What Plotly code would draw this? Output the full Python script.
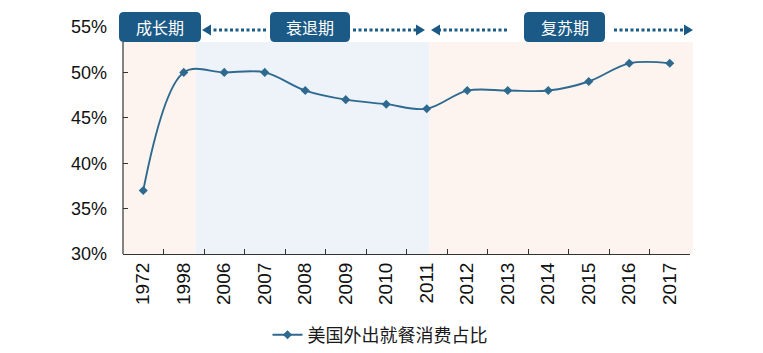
import plotly.graph_objects as go

years = ["1972", "1998", "2006", "2007", "2008", "2009", "2010", "2011",
         "2012", "2013", "2014", "2015", "2016", "2017"]
share = [37, 50, 50, 50, 48, 47, 46.5, 46, 48, 48, 48, 49, 51, 51]
series_name = "美国外出就餐消费占比"
phases = ["成长期", "衰退期", "复苏期"]
y_ticks = [30, 35, 40, 45, 50, 55]
y_labels = ["30%", "35%", "40%", "45%", "50%", "55%"]

W, H = 763, 353
L, R, T, B = 123, 690, 27, 254


def px(x):
    return (x - L) / (R - L)


def py(y):
    return (B - y) / (B - T)


BOX = "#1b5a86"
LINE = "#2e6a90"

fig = go.Figure()
fig.add_trace(go.Scatter(
    x=years, y=share, name=series_name, mode="lines+markers",
    line=dict(color=LINE, width=1.9, shape="spline", smoothing=1),
    marker=dict(symbol="diamond", size=7, color=LINE),
))

shapes = []
# background shading
for x0, x1, col in [(123, 195.5, "#fdf4ef"), (195.5, 429.5, "#eef3f9"), (429.5, 693, "#fdf4ef")]:
    shapes.append(dict(type="rect", xref="paper", yref="paper",
                       x0=px(x0), x1=px(x1), y0=0, y1=py(42),
                       fillcolor=col, line_width=0, layer="below"))
# left axis line
shapes.append(dict(type="line", xref="paper", yref="paper", x0=0, x1=0,
                   y0=0, y1=py(42), line=dict(color="#333333", width=1.2)))


def rrect(x0, y0, x1, y1, r=5):
    rx, ry = r / (R - L), r / (B - T)
    X0, X1, Y0, Y1 = px(x0), px(x1), py(y0), py(y1)  # Y0 top, Y1 bottom
    return (f"M {X0+rx},{Y0} L {X1-rx},{Y0} Q {X1},{Y0} {X1},{Y0-ry} "
            f"L {X1},{Y1+ry} Q {X1},{Y1} {X1-rx},{Y1} L {X0+rx},{Y1} "
            f"Q {X0},{Y1} {X0},{Y1+ry} L {X0},{Y0-ry} Q {X0},{Y0} {X0+rx},{Y0} Z")


boxes = [(119, 201), (270, 350), (524, 605)]
for (x0, x1) in boxes:
    shapes.append(dict(type="path", xref="paper", yref="paper",
                       path=rrect(x0, 12, x1, 42), fillcolor=BOX, line_width=0,
                       layer="above"))

# dotted connectors
for x0, x1 in [(208, 266), (353, 418), (438, 508), (614, 685)]:
    shapes.append(dict(type="line", xref="paper", yref="paper",
                       x0=px(x0), x1=px(x1), y0=py(30), y1=py(30),
                       line=dict(color=BOX, width=3, dash="3px,2.5px")))


def tri(tip, direction):
    base = tip + 9 * direction
    return (f"M {px(tip)},{py(30)} L {px(base)},{py(24.5)} "
            f"L {px(base)},{py(35.5)} Z")


for tip, d in [(202, 1), (425, -1), (431, 1), (693, -1)]:
    shapes.append(dict(type="path", xref="paper", yref="paper",
                       path=tri(tip, d), fillcolor=BOX, line_width=0))

annotations = []
for (x0, x1), label in zip(boxes, phases):
    annotations.append(dict(xref="paper", yref="paper", x=px((x0 + x1) / 2),
                            y=py(27), text=label, showarrow=False,
                            xanchor="center", yanchor="middle",
                            font=dict(color="white", size=16,
                                      family="Noto Sans CJK SC")))

fig.update_layout(
    width=W, height=H,
    margin=dict(l=L, r=W - R, t=T, b=H - B, autoexpand=False),
    paper_bgcolor="white", plot_bgcolor="rgba(0,0,0,0)",
    shapes=shapes, annotations=annotations,
    showlegend=True,
    legend=dict(orientation="h", x=px(380), xanchor="center",
                y=py(335), yanchor="middle",
                font=dict(size=18, color="#1a1a1a", family="Noto Sans CJK SC")),
    xaxis=dict(type="category", range=[-0.5, 13.5], showgrid=False,
               automargin=False,
               showline=True, linecolor="#333333", linewidth=1.2,
               ticks="inside", ticklen=5, tickcolor="#333333",
               tickson="boundaries", tickangle=-90,
               tickfont=dict(size=19, color="#111111",
                             family="Liberation Sans, Arial")),
    yaxis=dict(range=[30, 55], showgrid=False, showline=False, zeroline=False,
               automargin=False,
               tickvals=y_ticks, ticktext=y_labels,
               ticks="inside", ticklen=5, tickcolor="#333333",
               ticklabelstandoff=15,
               tickfont=dict(size=18, color="#111111",
                             family="Liberation Sans, Arial")),
)

fig.write_html("out.html")
